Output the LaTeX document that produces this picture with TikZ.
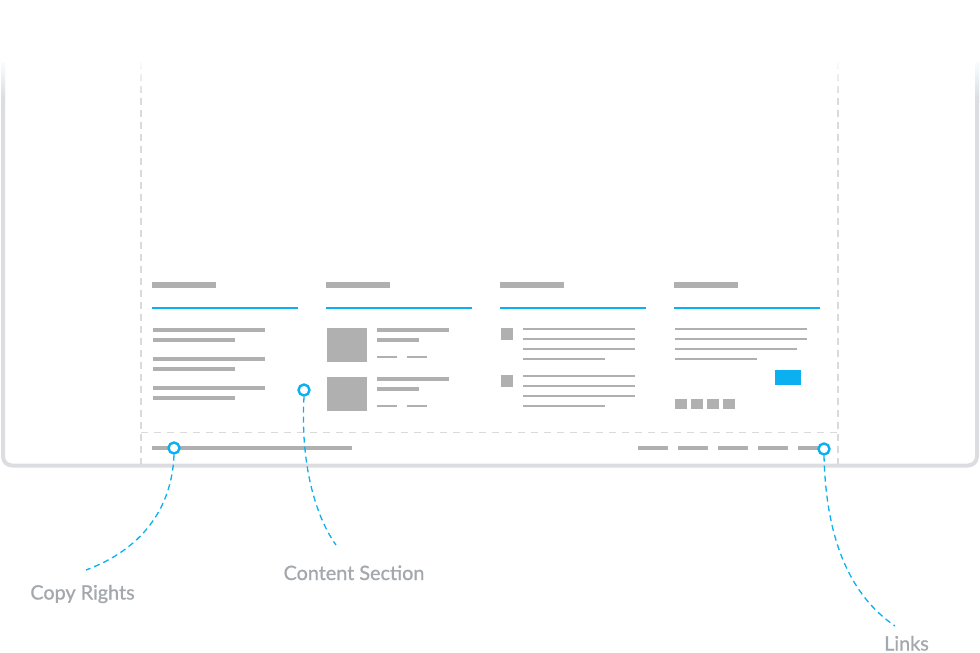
\documentclass[tikz,border=0pt]{standalone}
\usepackage{fontspec}
\setmainfont{Lato}
\newfontfamily\lblfont[FakeBold=0.9]{Lato}
\usetikzlibrary{fadings}
\definecolor{framegray}{HTML}{DCDDE1}
\definecolor{guidegray}{HTML}{D9DADD}
\definecolor{bargray}{HTML}{B0B0B0}
\definecolor{accent}{HTML}{0AB0EF}
\definecolor{labelgray}{HTML}{A3A8AC}
\definecolor{tint}{HTML}{CFE6F0}
\tikzfading[name=topfade, top color=transparent!0, bottom color=transparent!100]
\begin{document}
\begin{tikzpicture}[x=1pt,y=-1pt,
  bar/.style={fill=bargray},
  rulebar/.style={draw=accent, line width=1.3pt},
  guide/.style={draw=guidegray, line width=1.4pt, dash pattern=on 7pt off 5pt},
  divider/.style={draw=guidegray, line width=1pt, dash pattern=on 7pt off 6pt},
  callout/.style={draw=accent, line width=1.3pt, dash pattern=on 6pt off 4pt},
  pin/.style={circle, draw=accent, fill=white, line width=2.4pt, minimum size=11pt, inner sep=0pt},
  lbl/.style={text=labelgray, font=\lblfont\fontsize{19.8}{23}\selectfont, inner sep=0pt, anchor=base}]
\useasboundingbox (0,0) rectangle (980,653);
% frame
\draw[framegray, line width=4pt, rounded corners=9pt] (3,62) -- (3,465.5) -- (977,465.5) -- (977,62);
\shade[top color=tint, bottom color=framegray] (1,62) rectangle (5,102);
\shade[top color=tint, bottom color=framegray] (975,62) rectangle (979,102);
% guides
\draw[guide] (141,62) -- (141,464);
\draw[guide] (838,62) -- (838,464);
\draw[divider] (141,432) -- (838,432);
\fill[white, path fading=topfade] (0,58) rectangle (980,98);
% headings and rules
\foreach \x in {152,326,500,674}{
  \fill[bar] (\x,282) rectangle ++(64,6);
  \draw[rulebar] (\x,308) -- ++(146,0);
}
% column 1
\foreach \y in {328,357,386}{
  \fill[bar] (153,\y) rectangle (265,\y+4);
  \fill[bar] (153,\y+10) rectangle (235,\y+14);
}
% column 2
\foreach \y in {328,377}{
  \fill[bar] (327,\y) rectangle (367,\y+34);
  \fill[bar] (377,\y) rectangle (449,\y+4);
  \fill[bar] (377,\y+10) rectangle (419,\y+14);
  \fill[bar] (377,\y+28.3) rectangle (397,\y+30);
  \fill[bar] (407,\y+28.3) rectangle (427,\y+30);
}
% column 3
\foreach \y in {328,375}{
  \fill[bar] (501,\y) rectangle (513,\y+12);
  \fill[bar] (523,\y) rectangle (635,\y+2);
  \fill[bar] (523,\y+10) rectangle (635,\y+12);
  \fill[bar] (523,\y+20) rectangle (635,\y+22);
  \fill[bar] (523,\y+30) rectangle (605,\y+32);
}
% column 4
\fill[bar] (675,328) rectangle (807,330);
\fill[bar] (675,338) rectangle (807,340);
\fill[bar] (675,348) rectangle (797,350);
\fill[bar] (675,358) rectangle (757,360);
\fill[accent] (775,370) rectangle (801,385);
\foreach \k in {0,1,2,3}{
  \fill[bar] (675+16*\k,399) rectangle ++(12,10);
}
% footer
\fill[bar] (152,446) rectangle (352,450);
\foreach \k in {0,...,4}{
  \fill[bar] (638+40*\k,446) rectangle ++(30,4);
}
% pins
\node[pin] (cpin) at (174,448) {};
\node[pin] (spin) at (304,390) {};
\node[pin] (lpin) at (824,449) {};
% labels
\node[lbl] (clbl) at (82.5,599.5) {Copy Rights};
\node[lbl] (slbl) at (354,580) {Content Section};
\node[lbl] (llbl) at (906.5,650.5) {Links};
\coordinate (cend) at (86,570);
\coordinate (send) at (336,545);
\coordinate (lend) at (895,626);
% callouts
\draw[callout] (cpin.south) .. controls (172,510) and (140,550) .. (cend);
\draw[callout] (spin.south) .. controls (300,470) and (318,520) .. (send);
\draw[callout] (lpin.south) .. controls (826,540) and (850,595) .. (lend);
\end{tikzpicture}
\end{document}
